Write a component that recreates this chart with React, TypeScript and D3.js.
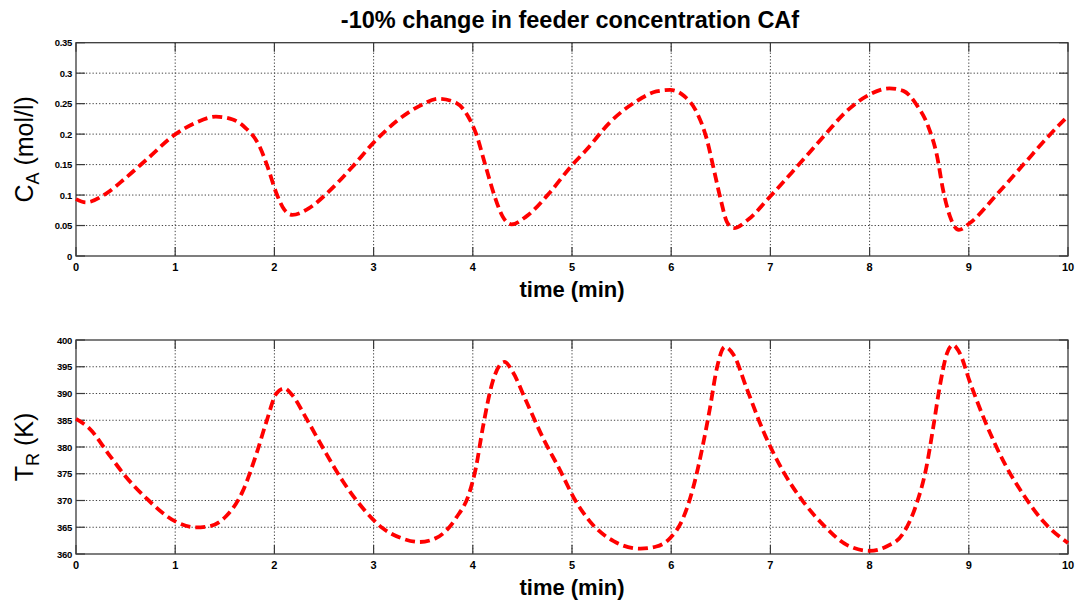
import React from "react";
import * as d3 from "d3";

const W = 1076;
const H = 603;

const title = "-10% change in feeder concentration CAf";
const xLabel = "time (min)";
const xTicks = [0, 1, 2, 3, 4, 5, 6, 7, 8, 9, 10];
const caTicks = [0, 0.05, 0.1, 0.15, 0.2, 0.25, 0.3, 0.35];
const trTicks = [360, 365, 370, 375, 380, 385, 390, 395, 400];

const caTime = [0, 0.1, 0.3, 0.5, 0.71, 1.0, 1.21, 1.41, 1.58, 1.71, 1.85, 1.93, 2.02, 2.1, 2.18, 2.35, 2.55, 2.79, 3.0, 3.23, 3.46, 3.66, 3.83, 3.95, 4.03, 4.13, 4.22, 4.3, 4.39, 4.54, 4.77, 5.0, 5.15, 5.38, 5.65, 5.85, 5.99, 6.13, 6.26, 6.36, 6.43, 6.5, 6.56, 6.63, 6.77, 7.0, 7.27, 7.54, 7.77, 8.0, 8.2, 8.34, 8.47, 8.59, 8.68, 8.74, 8.81, 8.9, 9.01, 9.28, 9.55, 9.82, 10.0];
const caValues = [0.0934, 0.088, 0.102, 0.128, 0.158, 0.1995, 0.219, 0.2286, 0.224, 0.21, 0.18, 0.147, 0.103, 0.076, 0.0676, 0.0786, 0.106, 0.147, 0.186, 0.221, 0.246, 0.258, 0.2516, 0.2297, 0.202, 0.147, 0.098, 0.065, 0.052, 0.065, 0.103, 0.149, 0.175, 0.219, 0.254, 0.27, 0.2725, 0.2626, 0.235, 0.191, 0.1418, 0.092, 0.0566, 0.0456, 0.059, 0.098, 0.147, 0.197, 0.238, 0.265, 0.275, 0.271, 0.249, 0.213, 0.164, 0.109, 0.065, 0.043, 0.054, 0.1005, 0.15, 0.1995, 0.2297];

const trTime = [0, 0.134, 0.336, 0.5, 0.71, 1.0, 1.21, 1.34, 1.51, 1.68, 1.815, 1.92, 2.02, 2.1, 2.18, 2.32, 2.49, 2.69, 2.89, 3.09, 3.29, 3.46, 3.63, 3.83, 3.97, 4.03, 4.1, 4.2, 4.32, 4.4, 4.54, 4.71, 4.87, 5.04, 5.18, 5.42, 5.69, 5.85, 5.99, 6.12, 6.22, 6.32, 6.39, 6.46, 6.54, 6.63, 6.76, 6.93, 7.13, 7.33, 7.53, 7.77, 8.0, 8.17, 8.34, 8.47, 8.57, 8.64, 8.71, 8.78, 8.84, 8.91, 9.01, 9.18, 9.35, 9.55, 9.75, 10.0];
const trValues = [385.25, 383.5, 378.5, 374.5, 370.4, 366.1, 364.97, 365.16, 367.0, 371.7, 378.5, 384.75, 390.0, 390.97, 389.7, 385.4, 379.8, 373.6, 368.6, 364.85, 362.9, 362.24, 362.98, 366.7, 371.7, 376.0, 383.5, 392.2, 395.9, 394.1, 388.5, 381.6, 376.0, 369.8, 366.1, 362.4, 361.0, 361.4, 363.0, 366.7, 372.3, 380.4, 387.2, 394.7, 398.7, 397.2, 391.0, 382.9, 375.4, 369.8, 365.5, 361.7, 360.6, 361.4, 363.9, 369.2, 376.0, 383.5, 391.6, 397.5, 399.05, 397.5, 392.2, 384.1, 377.3, 371.1, 366.1, 362.05];

const PL = 76;
const PR = 1068;

function fmtCA(v: number) {
  if (v === 0) return "0";
  return String(+v.toFixed(2));
}

type PanelProps = {
  top: number;
  bottom: number;
  domain: [number, number];
  yTicks: number[];
  fmt: (v: number) => string;
  times: number[];
  values: number[];
  yMain: string;
  ySub: string;
  yRest: string;
};

function Panel(p: PanelProps) {
  const x = d3.scaleLinear().domain([0, 10]).range([PL, PR]);
  const y = d3.scaleLinear().domain(p.domain).range([p.bottom, p.top]);
  const pts = p.times.map((t, i) => [t, p.values[i]] as [number, number]);
  const line = d3
    .line<[number, number]>()
    .x((d) => x(d[0]))
    .y((d) => y(d[1]))
    .curve(d3.curveMonotoneX);
  const cy = (p.top + p.bottom) / 2;
  const tickLen = 9;
  const axisColor = "#3a3a3a";
  return (
    <g>
      {xTicks.slice(1, -1).map((t) => (
        <line key={"gx" + t} x1={x(t)} x2={x(t)} y1={p.top} y2={p.bottom} stroke="#444" strokeWidth={1} strokeDasharray="1.3,2" />
      ))}
      {p.yTicks.slice(1, -1).map((t) => (
        <line key={"gy" + t} x1={PL} x2={PR} y1={y(t)} y2={y(t)} stroke="#444" strokeWidth={1} strokeDasharray="1.3,2" />
      ))}
      {xTicks.map((t) => (
        <g key={"tx" + t}>
          <line x1={x(t)} x2={x(t)} y1={p.bottom} y2={p.bottom - tickLen} stroke={axisColor} strokeWidth={1.2} />
          <line x1={x(t)} x2={x(t)} y1={p.top} y2={p.top + tickLen} stroke={axisColor} strokeWidth={1.2} />
          <text x={x(t)} y={p.bottom + 15} textAnchor="middle" fontFamily="Liberation Sans, Arial, sans-serif" fontWeight="bold" fontSize={11}>
            {t}
          </text>
        </g>
      ))}
      {p.yTicks.map((t) => (
        <g key={"ty" + t}>
          <line x1={PL} x2={PL + tickLen} y1={y(t)} y2={y(t)} stroke={axisColor} strokeWidth={1.2} />
          <line x1={PR} x2={PR - tickLen} y1={y(t)} y2={y(t)} stroke={axisColor} strokeWidth={1.2} />
          <text x={PL - 4} y={y(t) + 3.5} textAnchor="end" fontFamily="Liberation Sans, Arial, sans-serif" fontWeight="bold" fontSize={9.5} letterSpacing={-0.3}>
            {p.fmt(t)}
          </text>
        </g>
      ))}
      <rect x={PL} y={p.top} width={PR - PL} height={p.bottom - p.top} fill="none" stroke={axisColor} strokeWidth={1.3} />
      <path d={line(pts) || ""} fill="none" stroke="#ff0000" strokeWidth={3.8} strokeDasharray="10,5" strokeLinejoin="round" />
      <text x={(PL + PR) / 2} y={p.bottom + 41} textAnchor="middle" fontFamily="Liberation Sans, Arial, sans-serif" fontWeight="bold" fontSize={22}>
        {xLabel}
      </text>
      <text transform={`translate(33,${cy}) rotate(-90)`} textAnchor="middle" fontFamily="Liberation Sans, Arial, sans-serif" fontSize={25}>
        <tspan>{p.yMain}</tspan>
        <tspan fontSize={18} dy={6}>{p.ySub}</tspan>
        <tspan dy={-6}>{p.yRest}</tspan>
      </text>
    </g>
  );
}

export default function App() {
  return (
    <svg width={W} height={H} style={{ position: "absolute", left: 0, top: 0, background: "#fff" }}>
      <rect x={0} y={0} width={W} height={H} fill="#fff" />
      <text x={570} y={28} textAnchor="middle" fontFamily="Liberation Sans, Arial, sans-serif" fontWeight="bold" fontSize={23.5}>
        {title}
      </text>
      <Panel top={42.7} bottom={256} domain={[0, 0.35]} yTicks={caTicks} fmt={fmtCA} times={caTime} values={caValues} yMain="C" ySub="A" yRest=" (mol/l)" />
      <Panel top={340} bottom={554} domain={[360, 400]} yTicks={trTicks} fmt={(v) => String(v)} times={trTime} values={trValues} yMain="T" ySub="R" yRest=" (K)" />
    </svg>
  );
}
